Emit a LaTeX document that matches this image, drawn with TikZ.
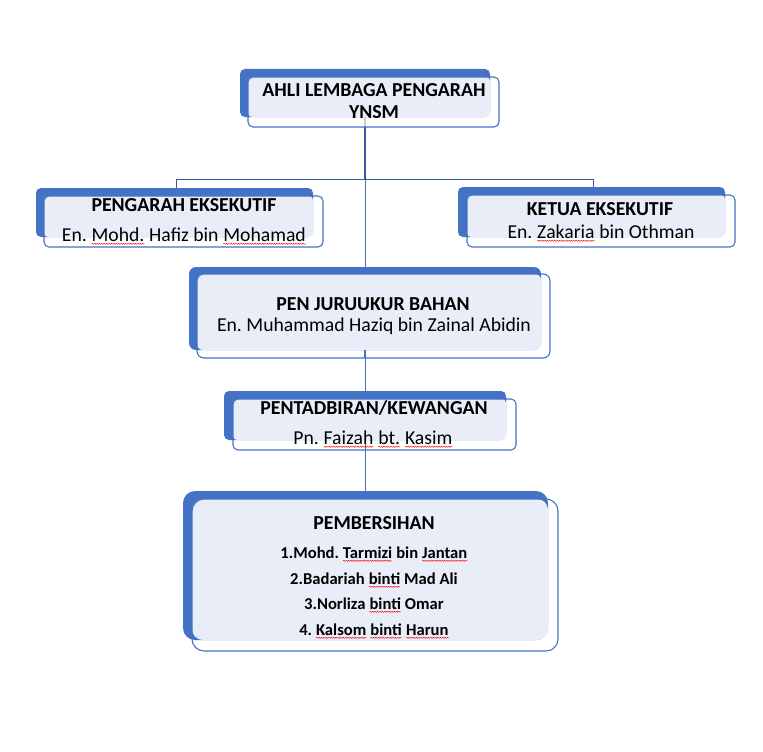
\documentclass[tikz,border=0pt]{standalone}
\usepackage{fontspec}
\setmainfont{Carlito}
\usetikzlibrary{decorations.pathmorphing}
\definecolor{acc}{HTML}{4472C4}
\definecolor{lite}{HTML}{E9EDF7}
\definecolor{linec}{HTML}{4A6DBB}
\definecolor{lined}{HTML}{3558A0}
\frenchspacing
\newcommand\sq[1]{\tikz[baseline=(w.base)]{\node[inner sep=0pt,outer sep=0pt](w){#1};\draw[red,line width=0.45pt,decorate,decoration={snake,amplitude=0.55pt,segment length=2.4pt}]([yshift=-2.8pt]w.base west)--([yshift=-2.8pt]w.base east);}}
\tikzset{
  backbox/.style={fill=acc},
  litebox/.style={fill=lite},
  frontbox/.style={draw=acc,line width=1.1pt},
  conn/.style={draw=linec,line width=0.8pt},
  conndark/.style={draw=lined,line width=0.9pt},
  hd/.style={inner sep=0pt,font=\fontsize{19.8}{22}\selectfont\bfseries},
  nm/.style={inner sep=0pt,font=\fontsize{19.7}{22}\selectfont},
  li/.style={inner sep=0pt,font=\fontsize{16.6}{19}\selectfont\bfseries}
}
\begin{document}
\begin{tikzpicture}[x=1pt,y=-1pt,line join=round]
\useasboundingbox[fill=white] (0,0) rectangle (763,752);

% coordinates for connectors
\coordinate (top) at (365,100);
\coordinate (j) at (365,179);
\coordinate (jl) at (176,179);
\coordinate (jr) at (593,179);
\coordinate (bl) at (176,196);
\coordinate (br) at (593,195);
\coordinate (bot) at (365,499);

\draw[conn] (j) -- (bot);
\draw[conndark] (jl) -- (jr);
\draw[conndark] (jl) -- (bl);
\draw[conndark] (jr) -- (br);
\draw[conndark,line width=1.7pt] (top) -- (j);

% Box 1
\fill[backbox,rounded corners=5pt] (240,69) rectangle (490,117);
\fill[litebox,rounded corners=4pt] (248,77) rectangle (490,117);
\draw[draw=lite!70!gray,line width=1.2pt] (365,117) -- (365,127);
\draw[frontbox,rounded corners=5pt] (248,77) rectangle (499,127);
\node[hd] (t1a) at (374,90) {AHLI LEMBAGA PENGARAH};
\node[hd] (t1b) at (374,112) {YNSM};

% Box 2
\fill[backbox,rounded corners=5pt] (36,188) rectangle (313,237);
\fill[litebox,rounded corners=4pt] (44,196) rectangle (313,237);
\draw[frontbox,rounded corners=5pt] (44,196) rectangle (323,247);
\node[hd] (t2a) at (184,205) {PENGARAH EKSEKUTIF};
\node[nm,anchor=base] (t2b) at (184,241) {En. \sq{Mohd.} Hafiz bin \sq{Mohamad}};

% Box 3
\fill[backbox,rounded corners=5pt] (458,187) rectangle (725,237);
\fill[litebox,rounded corners=4pt] (467,195) rectangle (725,237);
\draw[frontbox,rounded corners=5pt] (467,195) rectangle (735,247);
\node[hd] (t3a) at (600,209) {KETUA EKSEKUTIF};
\node[nm,anchor=base] (t3b) at (601,238) {En. \sq{Zakaria} bin Othman};

% Box 4
\fill[backbox,rounded corners=7pt] (189,267) rectangle (541,350);
\fill[litebox,rounded corners=6pt] (197,274) rectangle (541,350);
\draw[conn] (364,350) -- (364,358);
\draw[frontbox,rounded corners=7pt] (197,274) rectangle (550,358);
\node[hd] (t4a) at (373,304) {PEN JURUUKUR BAHAN};
\node[nm,anchor=base] (t4b) at (374,331) {En. Muhammad Haziq bin Zainal Abidin};

% Box 5
\fill[backbox,rounded corners=5pt] (224,391) rectangle (506,440);
\fill[litebox,rounded corners=4pt] (233,399) rectangle (506,440);
\draw[conn] (365,440) -- (365,450);
\draw[frontbox,rounded corners=5pt] (233,399) rectangle (516,450);
\node[hd] (t5a) at (374,408) {PENTADBIRAN/KEWANGAN};
\node[nm,anchor=base] (t5b) at (373,444) {Pn. \sq{Faizah} \sq{bt.} \sq{Kasim}};

% Box 6
\fill[backbox,rounded corners=12pt] (183,491) rectangle (548,640);
\fill[litebox,rounded corners=11pt] (192,499) rectangle (548,640);
\draw[frontbox,rounded corners=12pt] (192,499) rectangle (558,651);
\node[hd] (t6a) at (374,523) {PEMBERSIHAN};
\node[li,anchor=base] (t6b) at (374,558) {1.Mohd. \sq{Tarmizi} bin \sq{Jantan}};
\node[li,anchor=base] (t6c) at (374,584) {2.Badariah \sq{binti} Mad Ali};
\node[li,anchor=base] (t6d) at (374,609) {3.Norliza \sq{binti} Omar};
\node[li,anchor=base] (t6e) at (374,635) {4. \sq{Kalsom} \sq{binti} \sq{Harun}};
\end{tikzpicture}
\end{document}
